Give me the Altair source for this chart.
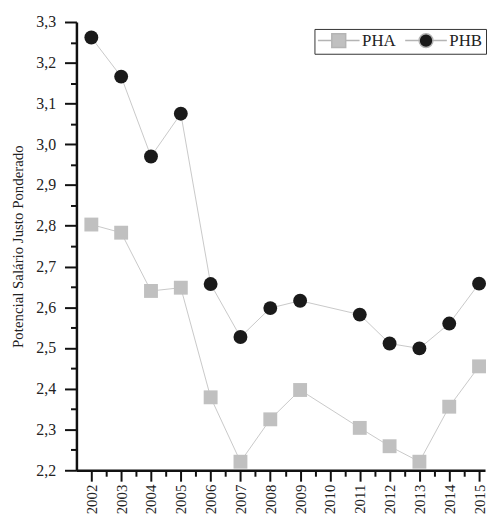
import altair as alt
import pandas as pd

years = [2002, 2003, 2004, 2005, 2006, 2007, 2008, 2009, 2011, 2012, 2013, 2014, 2015]
pha = [2.803, 2.783, 2.640, 2.648, 2.379, 2.221, 2.325, 2.397, 2.304, 2.259, 2.221, 2.356, 2.455]
phb = [3.262, 3.166, 2.970, 3.075, 2.657, 2.527, 2.598, 2.616, 2.582, 2.511, 2.499, 2.560, 2.658]
series_names = ["PHA", "PHB"]
x_major = list(range(2002, 2016))
y_major = [2.2, 2.3, 2.4, 2.5, 2.6, 2.7, 2.8, 2.9, 3.0, 3.1, 3.2, 3.3]
y_title = "Potencial Salário Justo Ponderado"

rows = []
for name, vals in zip(series_names, [pha, phb]):
    for yr, v in zip(years, vals):
        rows.append({"ano": yr, "valor": v, "serie": name})
df = pd.DataFrame(rows)

x_vals = sorted(x_major + [y + 0.5 for y in x_major[:-1]])
y_vals = sorted(y_major + [round(v + 0.05, 2) for v in y_major[:-1]])

FONT = "Liberation Serif"
TXT = "#222222"
FILLS = ["#c0c0c0", "#1a1a1a"]

common_axis = dict(
    labelFont=FONT,
    labelColor=TXT,
    titleFont=FONT,
    titleFontSize=15,
    titleFontWeight="normal",
    titleColor=TXT,
    domainColor="#111111",
    domainWidth=2.5,
    tickColor="#111111",
    tickWidth=2,
    grid=False,
)

x_enc = alt.X(
    "ano:Q",
    scale=alt.Scale(domain=[2001.5, 2015.2], nice=False, zero=False),
    axis=alt.Axis(
        values=x_vals,
        title=None,
        labelAngle=-90,
        labelAlign="right",
        labelBaseline="middle",
        labelFontSize=15,
        labelExpr="datum.value % 1 === 0 ? datum.value + '' : ''",
        tickSize={"condition": {"test": "datum.value % 1 === 0", "value": 11}, "value": 6},
        labelPadding=3,
        **common_axis,
    ),
)
y_enc = alt.Y(
    "valor:Q",
    scale=alt.Scale(domain=[2.2, 3.3], nice=False, zero=False),
    axis=alt.Axis(
        values=y_vals,
        title=y_title,
        labelFontSize=16,
        labelExpr="abs(datum.value*10 - round(datum.value*10)) < 0.001 ? replace(format(datum.value, '.1f'), '.', ',') : ''",
        tickSize={"condition": {"test": "abs(datum.value*10 - round(datum.value*10)) < 0.001", "value": 12}, "value": 6},
        labelPadding=9,
        titlePadding=10,
        **common_axis,
    ),
)

base = alt.Chart(df).encode(x=x_enc, y=y_enc)

lines = base.mark_line(color="#c8c8c8", strokeWidth=1).encode(detail="serie:N")

points = base.mark_point(filled=True, opacity=1, size=196).encode(
    fill=alt.Fill("serie:N", scale=alt.Scale(domain=series_names, range=FILLS), legend=None),
    shape=alt.Shape("serie:N", scale=alt.Scale(domain=series_names, range=["square", "circle"]), legend=None),
)

# legend-only layer: symbols drawn as marker with a connecting line stub
sq_path = "M-3,0H-1M1,0H3M-1,-1H1V1H-1Z"
ci_path = "M-3,0H-1M1,0H3M1,0A1,1,0,1,1,-1,0A1,1,0,1,1,1,0Z"

legend = alt.Legend(
    title=None,
    orient="none",
    legendX=240,
    legendY=7,
    direction="horizontal",
    columns=2,
    strokeColor="#333333",
    padding=3,
    labelFont=FONT,
    labelFontSize=17,
    labelColor=TXT,
    labelOffset=15,
    symbolOffset=13,
    columnPadding=5,
    symbolSize=196,
    symbolOpacity=1,
)

legend_layer = (
    alt.Chart(df)
    .transform_filter("false")
    .mark_point(filled=True, opacity=1, stroke="#b4b4b4", strokeWidth=1)
    .encode(
        fill=alt.Fill("serie:N", scale=alt.Scale(domain=series_names, range=FILLS), legend=legend),
        shape=alt.Shape("serie:N", scale=alt.Scale(domain=series_names, range=[sq_path, ci_path]), legend=legend),
    )
)

chart = (
    alt.layer(lines, points, legend_layer)
    .resolve_scale(fill="independent", shape="independent")
    .properties(
        width=412,
        height=452,
        autosize=alt.AutoSizeParams(type="none"),
        padding={"left": 69, "top": 12, "right": 3, "bottom": 45},
    )
    .configure_view(stroke=None)
)

chart.save("out.html", embed_options={"renderer": "svg", "actions": False})
